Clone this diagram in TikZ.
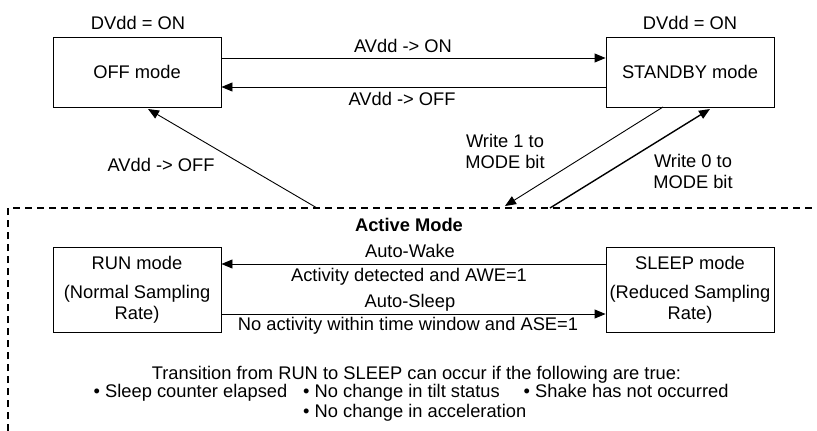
\documentclass[tikz,border=0pt]{standalone}
\usepackage{fontspec}
\setmainfont{Liberation Sans}
\usetikzlibrary{arrows.meta}
\begin{document}
\begin{tikzpicture}[x=1pt,y=-1pt,
  every node/.style={font=\fontsize{18.3}{21}\selectfont, inner sep=0pt},
  modebox/.style={draw, line width=0.9pt, fill=white, minimum width=168pt, minimum height=70pt, align=center},
  lbl/.style={align=center},
  conn/.style={line width=0.9pt, -{Triangle[length=11pt,width=9pt]}},
  active/.style={line width=1.8pt, dash pattern=on 7pt off 5pt}]
\useasboundingbox (0,0) rectangle (817,431);
% main boxes
\node[modebox] (offm) at (137,72) {OFF mode};
\node[modebox] (stby) at (690,72) {STANDBY mode};
\node[lbl] (dv1) at (138,22.5) {DVdd = ON};
\node[lbl] (dv2) at (690,22.5) {DVdd = ON};
% active region border
\coordinate (bl) at (8,431);
\coordinate (tl) at (8,208);
\coordinate (tr) at (817,208);
\draw[active] (bl) -- (tl) -- (tr);
% top arrows
\draw[conn] (offm.east |- 0,58) -- (stby.west |- 0,58);
\draw[conn] (stby.west |- 0,87) -- (offm.east |- 0,87);
\node[lbl] (l1) at (403,46) {AVdd -> ON};
\node[lbl] (l2) at (402,99) {AVdd -> OFF};
% diagonal from active to OFF
\coordinate (d0) at (317,208);
\draw[conn] (d0) -- (148,109);
\node[lbl] (l3) at (161,165) {AVdd -> OFF};
% STANDBY <-> active
\coordinate (w1s) at (663,107);
\coordinate (w1e) at (505,206);
\draw[conn] (w1s) -- (w1e);
\coordinate (w0s) at (550,208);
\coordinate (w0e) at (710,109);
\draw[conn, line width=1.4pt] (w0s) -- (w0e);
\node[lbl] (l4) at (505,151) {Write 1 to\\MODE bit};
\node[lbl] (l5) at (693,171) {Write 0 to\\MODE bit};
% active mode
\node[lbl, font=\fontsize{18.3}{21}\selectfont\bfseries] (am) at (409,225) {Active Mode};
\node[modebox, minimum height=85pt] (run) at (137,289.5) {RUN mode\\[8pt](Normal Sampling\\Rate)};
\node[modebox, minimum height=85pt] (slp) at (690,289.5) {SLEEP mode\\[8pt](Reduced Sampling\\Rate)};
\draw[conn] (slp.west |- 0,264) -- (run.east |- 0,264);
\draw[conn] (run.east |- 0,314) -- (slp.west |- 0,314);
\node[lbl] (aw) at (410,251) {Auto-Wake};
\node[lbl] (awd) at (409,277) {Activity detected and AWE=1};
\node[lbl] (as) at (410,303) {Auto-Sleep};
\node[lbl] (asd) at (408,326) {No activity within time window and ASE=1};
% conditions
\node[anchor=base] (tr1) at (416.5,379) {Transition from RUN to SLEEP can occur if the following are true:};
\node[anchor=base west] (b1) at (93.5,397) {• Sleep counter elapsed};
\node[anchor=base west] (b2) at (303,397) {• No change in tilt status};
\node[anchor=base west] (b3) at (523.5,397) {• Shake has not occurred};
\node[anchor=base west] (b4) at (303,417) {• No change in acceleration};
\end{tikzpicture}
\end{document}
